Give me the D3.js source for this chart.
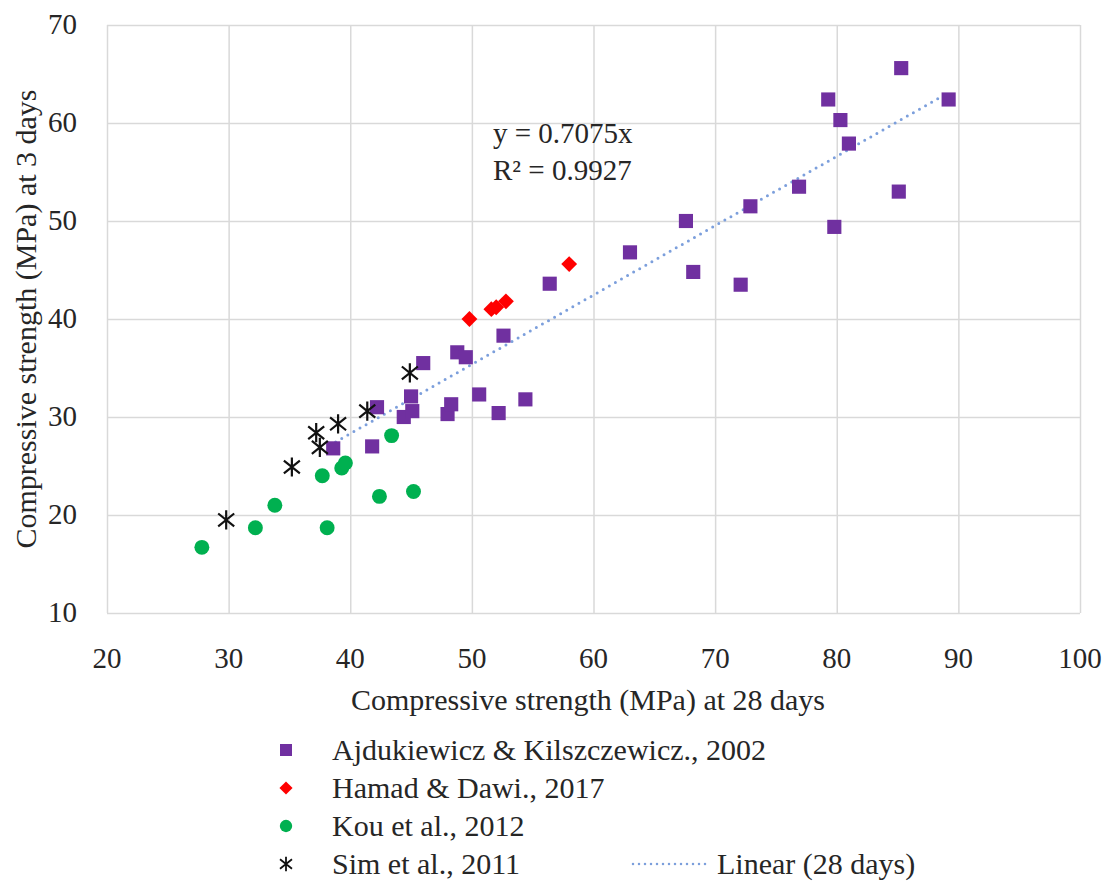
<!DOCTYPE html>
<html>
<head>
<meta charset="utf-8">
<script src="https://cdn.jsdelivr.net/npm/d3@7"></script>
<style>
  body { margin: 0; background: #fff; }
  text { font-family: "Liberation Serif", "DejaVu Serif", serif; fill: #262626; }
</style>
</head>
<body>
<div id="chart"></div>
<script>
// 28-day vs 3-day compressive strength (MPa)
const ajdukiewicz = [
  [38.6, 26.8], [41.8, 27.0], [42.2, 31.0], [44.4, 30.0], [45.0, 32.1], [45.1, 30.6],
  [46.0, 35.5], [48.0, 30.3], [48.3, 31.3], [48.8, 36.6], [49.5, 36.1], [50.6, 32.3],
  [52.2, 30.4], [52.6, 38.3], [54.4, 31.8], [56.4, 43.6], [63.0, 46.8], [67.6, 50.0],
  [68.2, 44.8], [72.1, 43.5], [72.9, 51.5], [76.9, 53.5], [79.3, 62.4], [79.8, 49.4],
  [80.3, 60.3], [81.0, 57.9], [85.1, 53.0], [85.3, 65.6], [89.2, 62.4]
];
const hamad = [[49.8, 40.0], [51.6, 41.0], [52.0, 41.2], [52.8, 41.8], [58.0, 45.6]];
const kou = [
  [27.8, 16.7], [32.2, 18.7], [33.8, 21.0], [37.7, 24.0], [38.1, 18.7],
  [39.3, 24.8], [39.6, 25.3], [42.4, 21.9], [43.4, 28.1], [45.2, 22.4]
];
const sim = [[29.8, 19.5], [35.2, 24.9], [37.2, 28.4], [37.5, 26.9], [39.0, 29.3], [41.4, 30.6], [44.9, 34.5]];

const xTicks = [20, 30, 40, 50, 60, 70, 80, 90, 100];
const yTicks = [10, 20, 30, 40, 50, 60, 70];
const slope = 0.7075;
const trendRange = [38.3, 89.2];
const equationLines = ["y = 0.7075x", "R² = 0.9927"];
const seriesNames = ["Ajdukiewicz & Kilszczewicz., 2002", "Hamad & Dawi., 2017", "Kou et al., 2012", "Sim et al., 2011"];
const trendName = "Linear (28 days)";

const width = 1109, height = 882;
const svg = d3.select("#chart").append("svg")
  .attr("width", width).attr("height", height);

const x = d3.scaleLinear().domain([20, 100]).range([107, 1080]);
const y = d3.scaleLinear().domain([10, 70]).range([613, 25]);

// gridlines
svg.append("g")
  .attr("transform", `translate(0, ${y(10)})`)
  .call(d3.axisBottom(x).tickValues(xTicks).tickSize(-(y(10) - y(70))).tickFormat(""))
  .call(g => g.select(".domain").remove())
  .call(g => g.selectAll("line").attr("stroke", "#d9d9d9").attr("stroke-width", 1.5));
svg.append("g")
  .attr("transform", `translate(${x(20)}, 0)`)
  .call(d3.axisLeft(y).tickValues(yTicks).tickSize(-(x(100) - x(20))).tickFormat(""))
  .call(g => g.select(".domain").remove())
  .call(g => g.selectAll("line").attr("stroke", "#d9d9d9").attr("stroke-width", 1.5));

// tick labels
svg.append("g").selectAll("text").data(xTicks).join("text")
  .attr("x", d => x(d)).attr("y", 668)
  .attr("text-anchor", "middle").attr("font-size", 29)
  .text(d => d);
svg.append("g").selectAll("text").data(yTicks).join("text")
  .attr("x", 77).attr("y", d => y(d) + 9)
  .attr("text-anchor", "end").attr("font-size", 29)
  .text(d => d);

// axis titles
svg.append("text")
  .attr("x", 588).attr("y", 710)
  .attr("text-anchor", "middle").attr("font-size", 30)
  .text("Compressive strength (MPa) at 28 days");
svg.append("text")
  .attr("transform", `translate(36, ${y(40)}) rotate(-90)`)
  .attr("text-anchor", "middle").attr("font-size", 30)
  .text("Compressive strength (MPa) at 3 days");

// trend line
const trendColor = "#7c9fdc";
svg.append("line")
  .attr("x1", x(trendRange[0])).attr("y1", y(slope * trendRange[0]))
  .attr("x2", x(trendRange[1])).attr("y2", y(slope * trendRange[1]))
  .attr("stroke", trendColor).attr("stroke-width", 3)
  .attr("stroke-linecap", "round").attr("stroke-dasharray", "0 7");

// markers
const purple = "#7030a0", red = "#ff0000", green = "#00b050";
const square = d3.symbol().type(d3.symbolSquare).size(200);
const diamond = d3.symbol().type(d3.symbolDiamond2).size(160);
const circle = d3.symbol().type(d3.symbolCircle).size(175);

svg.append("g").selectAll("path").data(ajdukiewicz).join("path")
  .attr("transform", d => `translate(${x(d[0])}, ${y(d[1])})`)
  .attr("d", square).attr("fill", purple);
svg.append("g").selectAll("path").data(hamad).join("path")
  .attr("transform", d => `translate(${x(d[0])}, ${y(d[1])})`)
  .attr("d", diamond).attr("fill", red);
svg.append("g").selectAll("path").data(kou).join("path")
  .attr("transform", d => `translate(${x(d[0])}, ${y(d[1])})`)
  .attr("d", circle).attr("fill", green);

function star(r) {
  return `M${-r},${-r * 0.8}L${r},${r * 0.8}M${-r},${r * 0.8}L${r},${-r * 0.8}M0,${-r * 1.2}L0,${r * 1.2}`;
}
svg.append("g").selectAll("path").data(sim).join("path")
  .attr("transform", d => `translate(${x(d[0])}, ${y(d[1])})`)
  .attr("d", star(8)).attr("stroke", "#111").attr("stroke-width", 2.2).attr("fill", "none");

// equation
svg.append("g").selectAll("text").data(equationLines).join("text")
  .attr("x", 493).attr("y", (d, i) => 143 + i * 37)
  .attr("font-size", 29)
  .text(d => d);

// legend
const legendY = [750, 788, 826, 864];
const lg = svg.append("g");
lg.append("path").attr("transform", `translate(286, ${legendY[0]})`)
  .attr("d", d3.symbol().type(d3.symbolSquare).size(144)).attr("fill", purple);
lg.append("path").attr("transform", `translate(286, ${legendY[1]})`)
  .attr("d", d3.symbol().type(d3.symbolDiamond2).size(110)).attr("fill", red);
lg.append("path").attr("transform", `translate(286, ${legendY[2]})`)
  .attr("d", d3.symbol().type(d3.symbolCircle).size(120)).attr("fill", green);
lg.append("path").attr("transform", `translate(286, ${legendY[3]})`)
  .attr("d", star(6)).attr("stroke", "#111").attr("stroke-width", 1.8).attr("fill", "none");
lg.selectAll("text.series").data(seriesNames).join("text")
  .attr("class", "series")
  .attr("x", 332).attr("y", (d, i) => legendY[i] + 10)
  .attr("font-size", 30)
  .text(d => d);
lg.append("line")
  .attr("x1", 633).attr("x2", 707).attr("y1", legendY[3]).attr("y2", legendY[3])
  .attr("stroke", trendColor).attr("stroke-width", 2.5)
  .attr("stroke-linecap", "round").attr("stroke-dasharray", "0 6");
lg.append("text")
  .attr("x", 717).attr("y", legendY[3] + 10)
  .attr("font-size", 30)
  .text(trendName);
</script>
</body>
</html>
